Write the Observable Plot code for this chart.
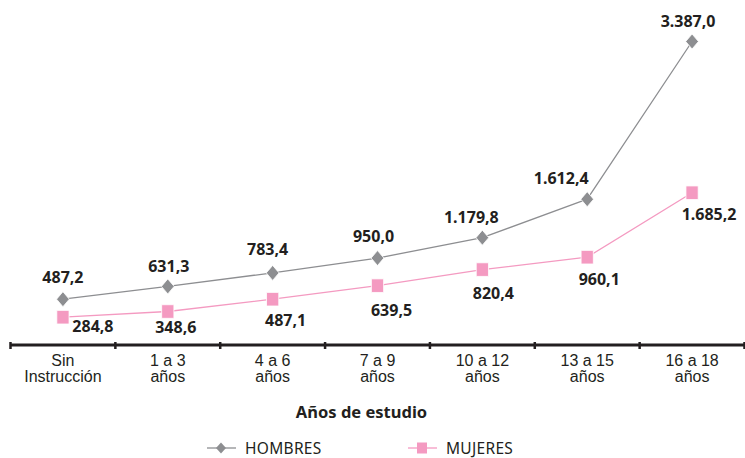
<!DOCTYPE html>
<html>
<head>
<meta charset="utf-8">
<script src="https://cdn.jsdelivr.net/npm/d3@7"></script>
<script src="https://cdn.jsdelivr.net/npm/@observablehq/plot@0.6"></script>
<style>
  html, body { margin: 0; padding: 0; background: #fff; overflow: hidden; }
  #wrap { width: 745px; position: relative; }
  #legend { position: relative; width: 745px; height: 28px; font-family: "Noto Sans", sans-serif; font-size: 15.5px; line-height: 14px; color: #231f20; }
  .item { position: absolute; top: 11px; height: 14px; display: flex; align-items: center; letter-spacing: 0.3px; }
  .item svg { margin-right: 9px; }
</style>
</head>
<body>
<div id="wrap"></div>
<script>
const categories = ["Sin\nInstrucción", "1 a 3\naños", "4 a 6\naños", "7 a 9\naños", "10 a 12\naños", "13 a 15\naños", "16 a 18\naños"];
const hombres = [487.2, 631.3, 783.4, 950.0, 1179.8, 1612.4, 3387.0];
const mujeres = [284.8, 348.6, 487.1, 639.5, 820.4, 960.1, 1685.2];
const seriesNames = ["HOMBRES", "MUJERES"];
const axisTitle = "Años de estudio";

// layout: label offsets (pixels) relative to each point
const labelOffsetH = [[0, -21], [1, -20], [-5, -23], [-4, -21], [-11, -20], [-26, -20], [-4, -20]];
const labelOffsetM = [[30, 10], [8, 16], [13, 22], [14, 25], [11, 24], [12, 23], [17, 22]];

const GRAY = "#8d8e91";
const PINK = "#f49ac1";
const DARK = "#231f20";

const locale = d3.formatLocale({decimal: ",", thousands: ".", grouping: [3], currency: ["", ""]});
const fmt = locale.format(",.1f");

const rowsH = hombres.map((v, i) => ({i, value: v, series: seriesNames[0]}));
const rowsM = mujeres.map((v, i) => ({i, value: v, series: seriesNames[1]}));

const diamond = {
  draw(ctx, size) {
    const r = Math.sqrt(size / Math.PI);
    const w = r * 0.85;
    ctx.moveTo(0, -r); ctx.lineTo(w, 0); ctx.lineTo(0, r); ctx.lineTo(-w, 0); ctx.closePath();
  }
};
const square = {
  draw(ctx, size) {
    const r = Math.sqrt(size / Math.PI);
    const w = r * 0.9;
    ctx.moveTo(-w, -r); ctx.lineTo(w, -r); ctx.lineTo(w, r); ctx.lineTo(-w, r); ctx.closePath();
  }
};

const labelFont = {fontFamily: "Noto Sans, sans-serif", fontWeight: "bold", fontSize: 16, fill: DARK};

const labelMarks = [];
rowsH.forEach((d, k) => labelMarks.push(Plot.text([d], {x: "i", y: "value", text: r => fmt(r.value), dx: labelOffsetH[k][0], dy: labelOffsetH[k][1], ...labelFont, style: "letter-spacing:0.7px"})));
rowsM.forEach((d, k) => labelMarks.push(Plot.text([d], {x: "i", y: "value", text: r => fmt(r.value), dx: labelOffsetM[k][0], dy: labelOffsetM[k][1], ...labelFont, style: "letter-spacing:0.7px"})));

const chart = Plot.plot({
  width: 745,
  height: 430,
  marginLeft: 10,
  marginRight: 1,
  marginTop: 41,
  marginBottom: 88,
  style: {fontFamily: "Liberation Sans, Arial, sans-serif", fontSize: "16px", color: DARK, background: "#fff"},
  x: {type: "linear", domain: [-0.5, categories.length - 0.5], label: null},
  y: {domain: [0, 3387], nice: false, axis: null},
  marks: [
    Plot.ruleY([0], {stroke: DARK, strokeWidth: 3, dy: 2.5}),
    Plot.axisX({ticks: d3.range(-0.5, categories.length, 1), tickSize: 7, tickFormat: () => "", stroke: DARK, strokeWidth: 2.5, label: null}),
    Plot.axisX({ticks: d3.range(categories.length), tickSize: 0, tickPadding: 12, tickFormat: i => categories[i], fontSize: 16, lineHeight: 1, fontFamily: "Liberation Sans, Arial, sans-serif", fill: DARK, label: null}),
    Plot.line(rowsH, {x: "i", y: "value", stroke: GRAY, strokeWidth: 1.3}),
    Plot.line(rowsM, {x: "i", y: "value", stroke: PINK, strokeWidth: 1.3}),
    Plot.dot(rowsH, {x: "i", y: "value", symbol: diamond, r: 7.5, fill: GRAY, stroke: "#fff", strokeWidth: 0.8}),
    Plot.dot(rowsM, {x: "i", y: "value", symbol: square, r: 6.8, fill: PINK, stroke: "#fff", strokeWidth: 0.8}),
    ...labelMarks,
    Plot.text([axisTitle], {frameAnchor: "bottom", dx: -16, dy: 75, fontFamily: "Noto Sans, sans-serif", fontWeight: "bold", fontSize: 16.5, fill: DARK, style: "letter-spacing:0.4px"})
  ]
});

const wrap = document.getElementById("wrap");
wrap.appendChild(chart);

const legend = document.createElement("div");
legend.id = "legend";
function swatch(color, kind) {
  const sym = kind === "diamond"
    ? `<path d="M14,1.5 L19,7 L14,12.5 L9,7 Z" fill="${color}"/>`
    : `<rect x="9" y="1.5" width="10" height="11" fill="${color}"/>`;
  return `<svg width="29" height="14"><line x1="0" x2="29" y1="7" y2="7" stroke="${color}" stroke-width="1.3"/>${sym}</svg>`;
}
legend.innerHTML =
  `<div class="item" style="left:207px">${swatch(GRAY, "diamond")}<span>${seriesNames[0]}</span></div>` +
  `<div class="item" style="left:408px">${swatch(PINK, "square")}<span>${seriesNames[1]}</span></div>`;
wrap.appendChild(legend);
</script>
</body>
</html>
